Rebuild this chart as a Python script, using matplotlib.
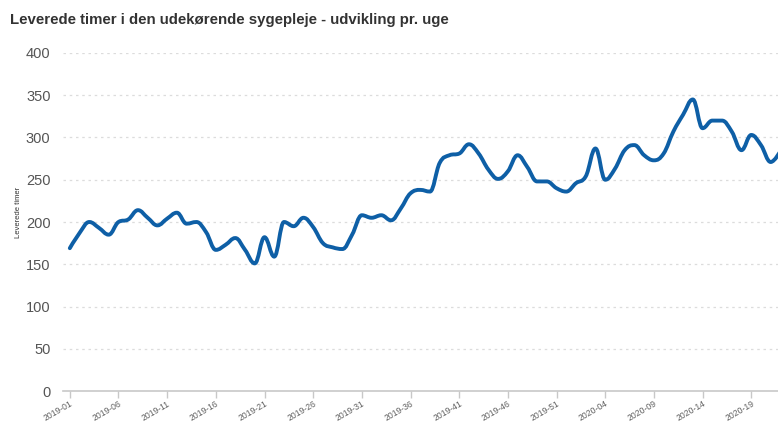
import matplotlib
matplotlib.use("Agg")
import matplotlib.pyplot as plt
from matplotlib.path import Path
from matplotlib.patches import PathPatch

title = "Leverede timer i den udekørende sygepleje - udvikling pr. uge"
y_label = "Leverede timer"

weeks = [f"2019-{w:02d}" for w in range(1, 53)] + [f"2020-{w:02d}" for w in range(1, 23)]
values = [
    169, 187, 200, 193, 185, 200, 203, 214, 205, 196,
    204, 211, 198, 200, 188, 167, 173, 181, 167, 151,
    182, 159, 200, 195, 205, 194, 175, 170, 168, 185,
    208, 205, 208, 202, 216, 234, 238, 236, 270, 279,
    281, 292, 281, 262, 251, 260, 279, 265, 248, 248,
    240, 236, 246, 254, 287, 250, 263, 285, 291, 279,
    273, 281, 307, 327, 345, 311, 320, 320, 307, 285,
    303, 291, 271, 284,
]
tick_labels = ["2019-01", "2019-06", "2019-11", "2019-16", "2019-21", "2019-26",
               "2019-31", "2019-36", "2019-41", "2019-46", "2019-51", "2020-04",
               "2020-09", "2020-14", "2020-19"]
y_ticks = [0, 50, 100, 150, 200, 250, 300, 350, 400]


def spline_path(xs, ys, smoothing=1.5):
    n = len(xs)
    lc = [(xs[i], ys[i]) for i in range(n)]
    rc = [(xs[i], ys[i]) for i in range(n)]
    for i in range(1, n - 1):
        px, py = xs[i], ys[i]
        lx, ly = xs[i - 1], ys[i - 1]
        nx, ny = xs[i + 1], ys[i + 1]
        d = smoothing + 1
        lcx = (smoothing * px + lx) / d
        lcy = (smoothing * py + ly) / d
        rcx = (smoothing * px + nx) / d
        rcy = (smoothing * py + ny) / d
        if rcx != lcx:
            corr = ((rcy - lcy) * (rcx - px)) / (rcx - lcx) + py - rcy
            lcy += corr
            rcy += corr
        if lcy > ly and lcy > py:
            lcy = max(ly, py)
            rcy = 2 * py - lcy
        elif lcy < ly and lcy < py:
            lcy = min(ly, py)
            rcy = 2 * py - lcy
        if rcy > ny and rcy > py:
            rcy = max(ny, py)
            lcy = 2 * py - rcy
        elif rcy < ny and rcy < py:
            rcy = min(ny, py)
            lcy = 2 * py - rcy
        lc[i] = (lcx, lcy)
        rc[i] = (rcx, rcy)
    verts = [(xs[0], ys[0])]
    codes = [Path.MOVETO]
    for i in range(1, n):
        verts += [rc[i - 1], lc[i], (xs[i], ys[i])]
        codes += [Path.CURVE4] * 3
    return Path(verts, codes)


fig = plt.figure(figsize=(7.78, 4.23), dpi=100)
ax = fig.add_axes([63 / 778, 1 - 391 / 423, 1 - 63 / 778, (391 - 53) / 423])

xs = list(range(len(values)))
patch = PathPatch(spline_path(xs, values), facecolor="none", edgecolor="#0e5fa6",
                  lw=2.8, capstyle="round", joinstyle="round", clip_on=True)
ax.add_patch(patch)

ax.set_xlim(-0.7, 72.75)
ax.set_ylim(0, 400)

tick_pos = [weeks.index(t) for t in tick_labels]
ax.set_xticks(tick_pos)
ax.set_xticklabels(tick_labels, rotation=30, ha="right", rotation_mode="anchor",
                   fontsize=6.2, color="#606060", family="Liberation Sans")
ax.set_yticks(y_ticks)
ax.set_yticklabels([str(v) for v in y_ticks], fontsize=10.5, color="#555555",
                   family="Liberation Sans")

ax.tick_params(axis="x", length=5, width=1, color="#c8c8c8", pad=1)
ax.tick_params(axis="y", length=0, pad=9)

for v in y_ticks[1:]:
    ax.axhline(v, color="#dcdcdc", lw=0.9, ls=(0, (2, 3)), zorder=0)

for s in ["top", "right", "left"]:
    ax.spines[s].set_visible(False)
ax.spines["bottom"].set_color("#c8c8c8")
ax.spines["bottom"].set_linewidth(1.2)

fig.text(10 / 778, 1 - 20 / 423, title, fontsize=10.8, fontweight="bold",
         color="#333333", family="Liberation Sans", va="center", ha="left")
fig.text(18 / 778, 1 - 212 / 423, y_label, fontsize=5.5, rotation=90,
         color="#333333", family="Liberation Sans", va="center", ha="center")

fig.savefig("out.png", dpi=100)
